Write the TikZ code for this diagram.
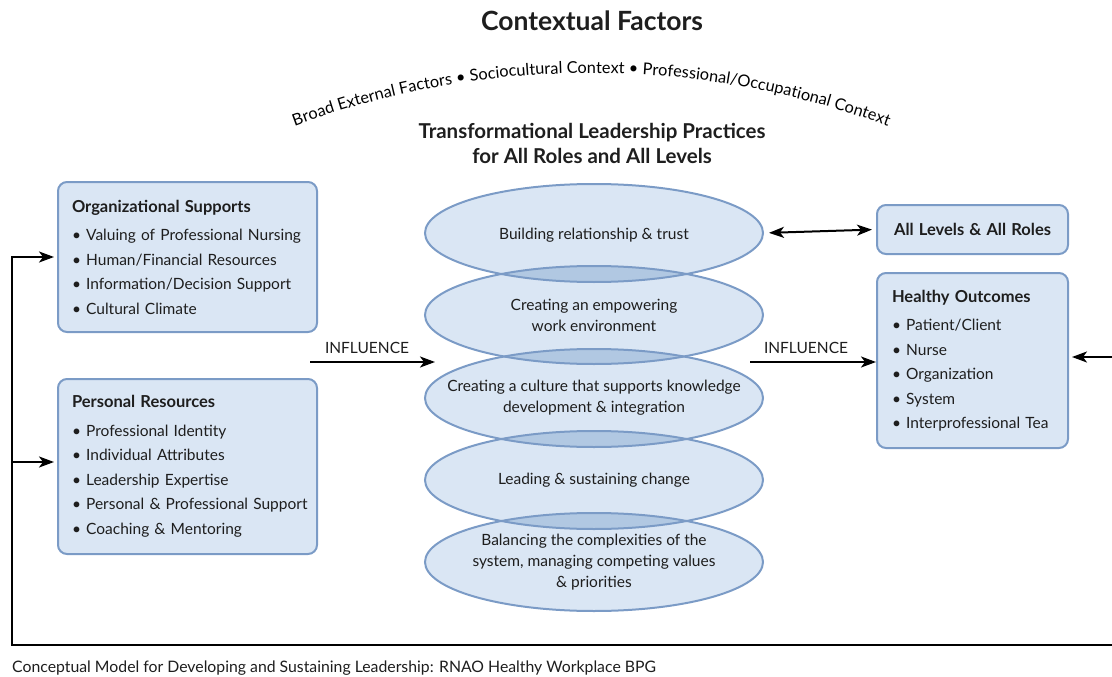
\documentclass[tikz,border=0pt]{standalone}
\usepackage{fontspec}
\setmainfont{Lato}
\usetikzlibrary{arrows.meta,decorations.text,shapes.geometric}

\definecolor{boxfill}{HTML}{DAE6F4}
\definecolor{boxline}{HTML}{7B9BC6}
\definecolor{lensfill}{HTML}{B1C8E2}
\definecolor{ink}{HTML}{1E1E1E}

\newcommand{\boxhead}[1]{{\fontsize{16.5}{24.5}\selectfont\bfseries #1}}

\begin{document}
\begin{tikzpicture}[x=1pt,y=1pt,text=ink,
  panel/.style={draw=boxline,line width=2pt,fill=boxfill,rounded corners=9pt,
    inner xsep=14pt,align=left,font=\fontsize{15.5}{24.5}\selectfont},
  ring/.style={draw=boxline,line width=2pt,ellipse,minimum width=338,minimum height=98,inner sep=0pt},
  ringtext/.style={align=center,font=\fontsize{15.5}{21}\selectfont},
  flow/.style={line width=2pt,-{Stealth[length=15pt,width=11pt,inset=4pt]}},
]

\useasboundingbox (0,0) rectangle (1112,-677);

% heading and the arc of context factors
\node[font=\fontsize{26.5}{30}\selectfont\bfseries] (title) at (592,-21) {Contextual Factors};

\path[decorate,decoration={text along path,text align=center,
  text={|\fontsize{16.3}{18}\selectfont|Broad External Factors • Sociocultural Context • Professional/Occupational Context}}]
  (591,-927) ++(110.7:854) arc[start angle=110.7,end angle=69.3,radius=854];

\node[font=\fontsize{20.5}{25}\selectfont\bfseries,align=center] (practices) at (592,-143)
  {Transformational Leadership Practices\\for All Roles and All Levels};

% left hand boxes
\node[panel,minimum width=259,minimum height=150,text width=231] (org) at (187.5,-257)
  {\boxhead{Organizational Supports}\\[4pt]
   • Valuing of Professional Nursing\\
   • Human/Financial Resources\\
   • Information/Decision Support\\
   • Cultural Climate};
\node[panel,minimum width=259,minimum height=175,text width=231] (pers) at (187.5,-466.5)
  {\boxhead{Personal Resources}\\[4pt]
   • Professional Identity\\
   • Individual Attributes\\
   • Leadership Expertise\\
   \mbox{• Personal \& Professional Support}\\
   • Coaching \& Mentoring};

% right hand boxes
\node[panel,align=center,inner xsep=0pt,minimum width=191,minimum height=49,text width=191] (levels) at (972.5,-229.5)
  {\boxhead{All Levels \& All Roles}};
\node[panel,minimum width=191,minimum height=175,text width=161,inner xsep=15pt] (health) at (972.5,-360.5)
  {\boxhead{Healthy Outcomes}\\[4pt]
   • Patient/Client\\
   • Nurse\\
   • Organization\\
   • System\\
   • Interprofessional Tea};

% stack of practices
\foreach \i/\y in {1/233,2/315,3/398,4/480,5/562}
  \coordinate (p\i) at (594,-\y);
\foreach \i in {1,...,5}
  \fill[boxfill] (p\i) ellipse[x radius=169,y radius=49];
\foreach \i/\j in {1/2,2/3,3/4,4/5}{
  \begin{scope}
    \clip (p\i) ellipse[x radius=169,y radius=49];
    \fill[lensfill] (p\j) ellipse[x radius=169,y radius=49];
  \end{scope}
}
\node[ring] (build) at (p1) {};
\node[ring] (empower) at (p2) {};
\node[ring] (culture) at (p3) {};
\node[ring] (change) at (p4) {};
\node[ring] (balance) at (p5) {};

\node[ringtext] at ([yshift=-2pt]build) {Building relationship \& trust};
\node[ringtext] at (empower) {Creating an empowering\\work environment};
\node[ringtext] at (culture) {Creating a culture that supports knowledge\\development \& integration};
\node[ringtext] at (change) {Leading \& sustaining change};
\node[ringtext] at (balance) {Balancing the complexities of the\\system, managing competing values\\\& priorities};

% influence arrows
\coordinate (infl) at (310,-362);
\coordinate (infltip) at (435,-362);
\coordinate (infr) at (750,-362);
\draw[flow] (infl) -- (infltip);
\node[font=\fontsize{15.5}{18}\selectfont] (inflab) at (367,-348) {INFLUENCE};
\draw[flow] (infr) -- (infr -| health.west);
\node[font=\fontsize{15.5}{18}\selectfont] (infrlab) at (806,-348) {INFLUENCE};

\draw[flow,{Stealth[length=15pt,width=11pt,inset=4pt]}-{Stealth[length=15pt,width=11pt,inset=4pt]},shorten <=5pt,shorten >=4pt]
  (build.east) -- (levels.west);

% feedback loop
\coordinate (loopin) at (1112,-357);
\coordinate (loopout) at (1112,-645);
\coordinate (loopcorner) at (12,-645);
\draw[flow,shorten >=3pt] (loopin) -- (loopin -| health.east);
\draw[flow,shorten >=3pt] (loopout) -- (loopcorner) |- (org.west);
\draw[flow,shorten >=3pt] (loopcorner |- 0,-462) -- (pers.west |- 0,-462);

\node[anchor=base west,inner sep=0pt,font=\fontsize{15.8}{18}\selectfont] (caption) at (12,-672)
  {Conceptual Model for Developing and Sustaining Leadership: RNAO Healthy Workplace BPG};

\end{tikzpicture}
\end{document}
